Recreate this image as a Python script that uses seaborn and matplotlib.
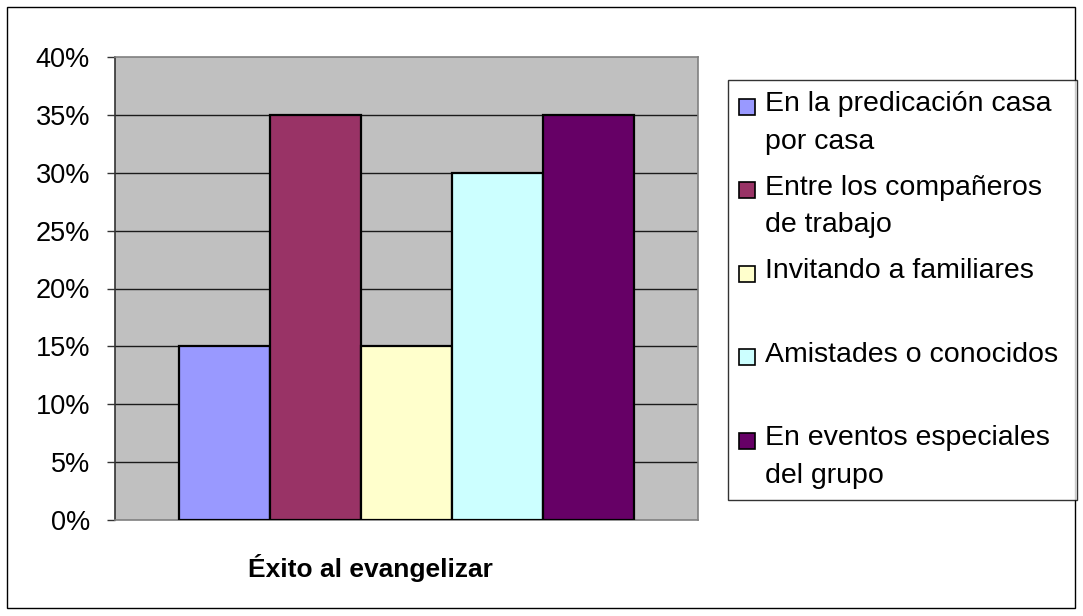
import matplotlib
matplotlib.use("Agg")
import matplotlib.pyplot as plt
import seaborn as sns
import pandas as pd
from matplotlib.patches import Patch, Rectangle
from matplotlib.legend_handler import HandlerBase
from matplotlib.ticker import PercentFormatter

# ---- data ----
grupo = ["Éxito al evangelizar"]
categorias = [
    "En la predicación casa por casa",
    "Entre los compañeros de trabajo",
    "Invitando a familiares",
    "Amistades o conocidos",
    "En eventos especiales del grupo",
]
valores = [0.15, 0.35, 0.15, 0.30, 0.35]
colores = ["#9999FF", "#993366", "#FFFFCC", "#CCFFFF", "#660066"]
etiquetas_leyenda = [
    "En la predicación casa\npor casa",
    "Entre los compañeros\nde trabajo",
    "Invitando a familiares\n ",
    "Amistades o conocidos\n ",
    "En eventos especiales\ndel grupo",
]
yticks = [0, 0.05, 0.10, 0.15, 0.20, 0.25, 0.30, 0.35, 0.40]

df = pd.DataFrame({
    "grupo": grupo * len(categorias),
    "categoria": categorias,
    "valor": valores,
})

sns.set_theme(style="white")
plt.rcParams["font.family"] = ["Liberation Sans", "DejaVu Sans"]
plt.rcParams["text.color"] = "black"
plt.rcParams["ytick.labelcolor"] = "black"

W, H = 1083, 616
DPI = 100
fig = plt.figure(figsize=(W / DPI, H / DPI), dpi=DPI)
fig.patch.set_facecolor("white")
ax = fig.add_axes([115 / W, 1 - 520 / H, (698 - 115) / W, (520 - 57) / H])
ax.set_facecolor("#C0C0C0")

sns.barplot(data=df, x="grupo", y="valor", hue="categoria",
            hue_order=categorias, palette=colores, saturation=1,
            width=0.78, edgecolor="black", linewidth=1.6,
            legend=False, ax=ax, zorder=3)

ax.set_ylim(0, 0.40)
ax.set_xlim(-0.5, 0.5)
ax.set_yticks(yticks)
ax.yaxis.set_major_formatter(PercentFormatter(1.0, decimals=0))
ax.tick_params(axis="y", labelsize=19.5, length=6, width=1, color="#333333",
               direction="out", pad=12, left=True, labelcolor="black")
ax.set_xticks([])
ax.set_xlabel("")
ax.set_ylabel("")
for y in yticks[1:-1]:
    ax.axhline(y, color="#1a1a1a", lw=1.0, zorder=1)

for side in ["top", "right", "bottom"]:
    ax.spines[side].set_color("#808080")
    ax.spines[side].set_linewidth(1.2)
ax.spines["left"].set_color("#333333")
ax.spines["left"].set_linewidth(1.2)
for sp in ax.spines.values():
    sp.set_visible(True)

# x category label
fig.text(370 / W, 1 - 568 / H, grupo[0], ha="center", va="center",
         fontsize=19, fontweight="bold", color="black")

# ---- legend ----
LFS = 20.5          # legend font size (pt)
LSP = 1.58          # line spacing
fs_px = LFS * DPI / 72

# measure line pitch and two-line text height
fig.canvas.draw()
r = fig.canvas.get_renderer()
t1 = fig.text(0, 0, "Ag", fontsize=LFS, linespacing=LSP)
t2 = fig.text(0, 0, "Ag\nAg", fontsize=LFS, linespacing=LSP)
h1 = t1.get_window_extent(r).height
h2 = t2.get_window_extent(r).height
t1.remove(); t2.remove()
line_px = h2 - h1
pitch_px = 83.5
labelspacing = max(0.0, (pitch_px - h2) / fs_px)
SQ_PT = 16 * 72 / DPI


class TopSquare(HandlerBase):
    def __init__(self, yoff):
        super().__init__()
        self.yoff = yoff

    def create_artists(self, legend, orig_handle, xdescent, ydescent,
                       width, height, fontsize, trans):
        rect = Rectangle((-xdescent, self.yoff), SQ_PT, SQ_PT,
                         facecolor=orig_handle.get_facecolor(),
                         edgecolor="black", linewidth=1.2, transform=trans)
        return [rect]


handles = [Patch(facecolor=c, edgecolor="black") for c in colores]
yoff_pt = (line_px - 19) * 72 / DPI
leg = fig.legend(handles, etiquetas_leyenda, loc="upper left",
                 bbox_to_anchor=(728 / W, 1 - 495 / H, (1077 - 728) / W, (495 - 80) / H),
                 mode="expand", fontsize=LFS,
                 frameon=True, fancybox=False, edgecolor="black",
                 handlelength=SQ_PT / LFS, handleheight=0.7,
                 handletextpad=0.35, borderpad=0.4,
                 labelspacing=labelspacing, borderaxespad=0,
                 handler_map={Patch: TopSquare(yoff_pt)})
leg.get_frame().set_linewidth(1.0)
for t in leg.get_texts():
    t.set_linespacing(LSP)
    t.set_color("black")

# outer border
fig.patches.append(Rectangle((7 / W, 1 - 608 / H), (1075 - 7) / W, (608 - 7) / H,
                             transform=fig.transFigure, fill=False,
                             edgecolor="black", linewidth=1.0))

fig.savefig("out.png", dpi=DPI)
